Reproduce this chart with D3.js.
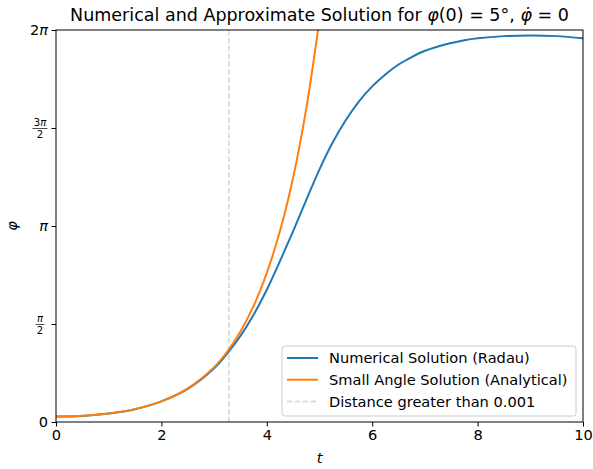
<!DOCTYPE html>
<html>
<head>
<meta charset="utf-8">
<script src="https://cdn.jsdelivr.net/npm/d3@7"></script>
<style>
  body { margin: 0; background: #fff; }
  svg { font-family: "DejaVu Sans", sans-serif; }
</style>
</head>
<body>
<div id="chart"></div>
<script>
// values
const numT = [0, 0.5, 1, 1.5, 2, 2.5, 3, 3.25, 3.5, 3.75, 4, 4.25, 4.5, 4.75, 5, 5.25, 5.5, 5.75, 6, 6.25, 6.5, 6.75, 7, 7.25, 7.5, 7.75, 8, 8.5, 9, 9.5, 10];
const numPhi = [0.087, 0.098, 0.135, 0.205, 0.33, 0.53, 0.86, 1.10, 1.38, 1.72, 2.12, 2.58, 3.06, 3.56, 4.05, 4.48, 4.84, 5.14, 5.38, 5.57, 5.73, 5.85, 5.95, 6.02, 6.075, 6.12, 6.15, 6.185, 6.196, 6.185, 6.15];
const smallT = [0, 0.5, 1, 1.5, 2, 2.5, 3, 3.25, 3.5, 3.75, 4, 4.25, 4.5, 4.75, 5];
const smallPhi = [0.087, 0.099, 0.135, 0.206, 0.33, 0.54, 0.88, 1.13, 1.45, 1.86, 2.39, 3.06, 3.92, 5.03, 6.45];
const limitT = 3.28;
const xTicks = [0, 2, 4, 6, 8, 10];
const yTicks = [0, Math.PI / 2, Math.PI, 3 * Math.PI / 2, 2 * Math.PI];
const legendLabels = ["Numerical Solution (Radau)", "Small Angle Solution (Analytical)", "Distance greater than 0.001"];

const W = 593, H = 469;
const mLeft = 56, mRight = 583, mTop = 30, mBottom = 422;
const fs = 14.6;

const svg = d3.select("#chart").append("svg")
    .attr("width", W).attr("height", H);

const x = d3.scaleLinear().domain([0, 10]).range([mLeft, mRight]);
const y = d3.scaleLinear().domain([0, 2 * Math.PI]).range([mBottom, mTop]);

svg.append("clipPath").attr("id", "clip")
  .append("rect")
    .attr("x", mLeft).attr("y", mTop)
    .attr("width", mRight - mLeft).attr("height", mBottom - mTop);

const plot = svg.append("g").attr("clip-path", "url(#clip)");

// dashed marker where the two solutions part
plot.append("line")
    .attr("x1", x(limitT)).attr("x2", x(limitT))
    .attr("y1", mTop).attr("y2", mBottom)
    .attr("stroke", "#dcdcdc")
    .attr("stroke-width", 2)
    .attr("stroke-dasharray", "5.5,2.4");

const line = d3.line()
    .x(d => x(d[0]))
    .y(d => y(d[1]))
    .curve(d3.curveCatmullRom.alpha(0.5));

plot.append("path")
    .datum(numT.map((t, i) => [t, numPhi[i]]))
    .attr("d", line)
    .attr("fill", "none")
    .attr("stroke", "#1f77b4")
    .attr("stroke-width", 2);

plot.append("path")
    .datum(smallT.map((t, i) => [t, smallPhi[i]]))
    .attr("d", line)
    .attr("fill", "none")
    .attr("stroke", "#ff7f0e")
    .attr("stroke-width", 2);

// axes
const xAxis = svg.append("g")
    .attr("transform", `translate(0,${mBottom})`)
    .call(d3.axisBottom(x).tickValues(xTicks).tickSize(4.5).tickSizeOuter(0).tickPadding(3));
xAxis.selectAll("text").attr("font-size", fs).attr("fill", "#000").attr("font-family", "DejaVu Sans");
xAxis.selectAll("line").attr("stroke", "#000");

const yAxis = svg.append("g")
    .attr("transform", `translate(${mLeft},0)`)
    .call(d3.axisLeft(y).tickValues(yTicks).tickSize(4.5).tickSizeOuter(0).tickFormat(""));
yAxis.selectAll("line").attr("stroke", "#000");

// frame
svg.append("rect")
    .attr("x", mLeft).attr("y", mTop)
    .attr("width", mRight - mLeft).attr("height", mBottom - mTop)
    .attr("fill", "none")
    .attr("stroke", "#000")
    .attr("stroke-width", 1);
svg.selectAll(".domain").remove();

// y tick labels in units of pi
const yLab = svg.append("g").attr("font-size", fs).attr("fill", "#000");
function piLabel(v, i) {
    const yy = y(v);
    const lx = mLeft - 8;
    if (i === 0) {
        yLab.append("text").attr("x", lx).attr("y", yy).attr("dy", "0.35em")
            .attr("text-anchor", "end").text("0");
    } else if (i === 2 || i === 4) {
        const t = yLab.append("text").attr("x", lx).attr("y", yy).attr("dy", "0.35em")
            .attr("text-anchor", "end");
        if (i === 4) t.append("tspan").text("2");
        t.append("tspan").attr("font-style", "italic").text("π");
    } else {
        const g = yLab.append("g").attr("transform", `translate(${lx - 8},${yy})`);
        const num = g.append("text").attr("y", -2.5).attr("text-anchor", "middle").attr("font-size", 10);
        if (i === 3) num.append("tspan").text("3");
        num.append("tspan").attr("font-style", "italic").text("π");
        g.append("line").attr("x1", i === 3 ? -7.5 : -4.5).attr("x2", i === 3 ? 7.5 : 4.5)
            .attr("y1", 0.5).attr("y2", 0.5).attr("stroke", "#000").attr("stroke-width", 0.7);
        g.append("text").attr("y", 10).attr("text-anchor", "middle").attr("font-size", 10).text("2");
    }
}
yTicks.forEach(piLabel);

// axis titles
svg.append("text")
    .attr("x", (mLeft + mRight) / 2).attr("y", 463)
    .attr("text-anchor", "middle").attr("font-size", fs).attr("font-style", "italic")
    .text("t");
svg.append("text")
    .attr("transform", `translate(17,${(mTop + mBottom) / 2}) rotate(-90)`)
    .attr("text-anchor", "middle").attr("font-size", fs).attr("font-style", "italic")
    .text("φ");

// title
const title = svg.append("text")
    .attr("x", (mLeft + mRight) / 2).attr("y", 21)
    .attr("text-anchor", "middle").attr("font-size", 17.5);
title.append("tspan").text("Numerical and Approximate Solution for ");
title.append("tspan").attr("font-style", "italic").text("φ");
title.append("tspan").text("(0) = 5°, ");
title.append("tspan").attr("font-style", "italic").text("φ\u0307");
title.append("tspan").text(" = 0");

// legend
const lg = svg.append("g");
lg.append("rect")
    .attr("x", 282).attr("y", 346).attr("width", 294).attr("height", 70)
    .attr("rx", 3)
    .attr("fill", "#fff").attr("fill-opacity", 0.8)
    .attr("stroke", "#cccccc");
const legendStyles = [
    { color: "#1f77b4", dash: null },
    { color: "#ff7f0e", dash: null },
    { color: "#dcdcdc", dash: "5.5,2.4" }
];
legendLabels.forEach((lab, i) => {
    const yy = 358 + i * 21.7;
    lg.append("line")
        .attr("x1", 287).attr("x2", 318).attr("y1", yy).attr("y2", yy)
        .attr("stroke", legendStyles[i].color).attr("stroke-width", 2)
        .attr("stroke-dasharray", legendStyles[i].dash);
    lg.append("text")
        .attr("x", 329).attr("y", yy).attr("dy", "0.35em")
        .attr("font-size", fs).text(lab);
});
</script>
</body>
</html>
